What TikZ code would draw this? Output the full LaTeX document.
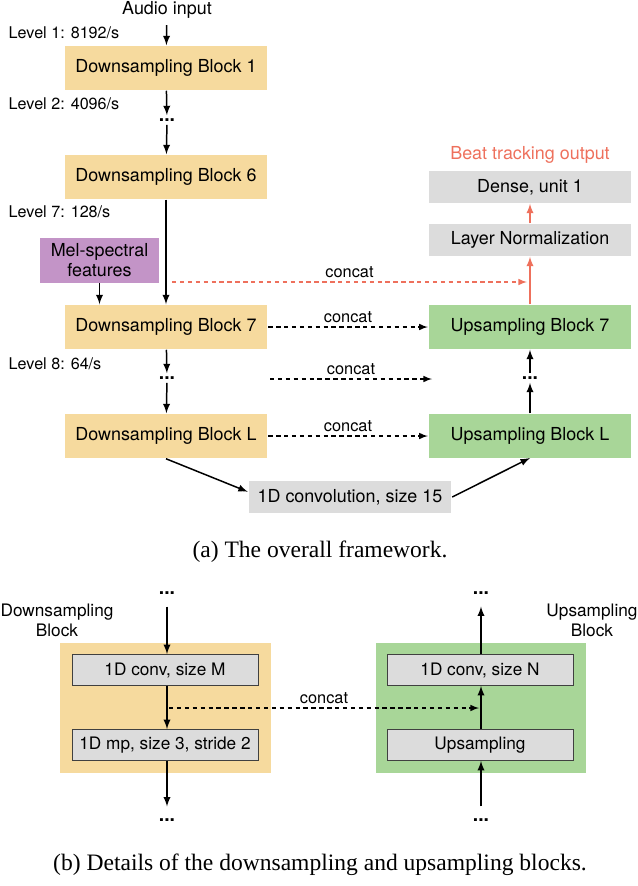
\documentclass[tikz,border=0pt]{standalone}
\usepackage{fontspec}
\setmainfont{Liberation Serif}
\setsansfont{TeX Gyre Heros}
\usetikzlibrary{arrows}

\definecolor{dsyellow}{RGB}{246,218,158}
\definecolor{usgreen}{RGB}{168,214,152}
\definecolor{lgray}{RGB}{220,220,220}
\definecolor{melpurple}{RGB}{195,148,199}
\definecolor{beatred}{RGB}{238,112,92}

\begin{document}
\begin{tikzpicture}[
                x=0.02cm, y=-0.02cm,
                font=\sffamily\fontsize{10.2}{12}\selectfont,
                line width=0.85pt,
                >=latex,
                % blocchi principali
                dsblock/.style={fill=dsyellow, minimum width=4.06cm, minimum height=0.88cm, inner sep=0pt},
                usblock/.style={fill=usgreen, minimum width=4.06cm, minimum height=0.88cm, inner sep=0pt},
                graybox/.style={fill=lgray, minimum width=4.06cm, minimum height=0.64cm, inner sep=0pt},
                layerbox/.style={fill=lgray, draw=black!75, line width=0.5pt, minimum width=3.72cm, minimum height=0.62cm, inner sep=0pt, font=\sffamily\fontsize{9.8}{11}\selectfont},
                lvl/.style={anchor=west, inner sep=0pt, font=\sffamily\fontsize{9.2}{10}\selectfont},
                dots/.style={font=\sffamily\bfseries\fontsize{11}{12}\selectfont, inner sep=1.5pt},
                skip/.style={->, densely dashed, dash pattern=on 2.5pt off 2pt, line width=0.7pt},
                lbl/.style={above, font=\sffamily\fontsize{9.3}{10}\selectfont, inner sep=2pt}
            ]

                \useasboundingbox (0,0) rectangle (637,886);

                % ========================================================
                % (a) Encoder (colonna di sinistra)
                % ========================================================
                \node (audio) at (167, 10) {Audio input};
                \node[lvl] (lv1) at (8, 33) {Level 1: 8192/s};
                \node[dsblock] (ds1) at (166, 68) {Downsampling Block 1};
                \node[lvl] (lv2) at (8, 104) {Level 2: 4096/s};
                \node[dots] (dotsa) at (167, 120) {...};
                \node[dsblock] (ds6) at (166, 177) {Downsampling Block 6};
                \node[lvl] (lv7) at (8, 212) {Level 7: 128/s};
                \node[fill=melpurple, minimum width=2.38cm, minimum height=0.9cm, inner sep=0pt, align=center,
                      font=\sffamily\fontsize{10.2}{11.5}\selectfont] (mel) at (99.5, 260) {Mel-spectral\\features};
                \node[dsblock] (ds7) at (166, 327) {Downsampling Block 7};
                \node[lvl] (lv8) at (8, 364) {Level 8: 64/s};
                \node[dots] (dotsb) at (167, 378) {...};
                \node[dsblock] (dsL) at (166, 436) {Downsampling Block L};

                \draw[->] (audio) -- (ds1);
                \draw[->] (ds1) -- (dotsa);
                \draw[->] (dotsa) -- (ds6);
                \draw[->] (ds6) -- (ds7);
                \draw[->] (mel) -- (mel |- ds7.north);
                \draw[->] (ds7) -- (dotsb);
                \draw[->] (dotsb) -- (dsL);

                % ========================================================
                % (a) Bottleneck
                % ========================================================
                \node[graybox] (conv15) at (350, 497) {1D convolution, size 15};
                \draw[->] (dsL.south) -- ([yshift=3pt]conv15.west);
                \draw[->] (conv15.east) -- (530, 458);

                % ========================================================
                % (a) Decoder (colonna di destra)
                % ========================================================
                \node[usblock] (usL) at (530, 436) {Upsampling Block L};
                \node[dots] (dotsc) at (530, 378) {...};
                \node[usblock] (us7) at (530, 327) {Upsampling Block 7};
                \node[graybox] (lnorm) at (530, 240) {Layer Normalization};
                \node[graybox] (dense) at (530, 187) {Dense, unit 1};
                \node[text=beatred] (beat) at (530, 155) {Beat tracking output};

                \draw[->] (usL) -- (dotsc);
                \draw[->] (dotsc) -- (us7);
                \draw[->, beatred] (us7) -- (lnorm);
                \draw[->, beatred] (lnorm) -- (dense);

                % Collegamenti concat
                \coordinate (tapa) at (172, 282);
                \coordinate (tapb) at (527, 282);
                \coordinate (midl) at (270, 379);
                \coordinate (midr) at (432, 379);
                \draw[skip, beatred] (tapa) -- (tapb) node[lbl, text=black, midway] {concat};
                \draw[skip] (ds7) -- (us7) node[lbl, midway] {concat};
                \draw[skip] (midl) -- (midr) node[lbl, midway] {concat};
                \draw[skip] (dsL) -- (usL) node[lbl, midway] {concat};

                \node[font=\rmfamily\fontsize{13.4}{16}\selectfont] (capa) at (320, 552) {(a) The overall framework.};

                % ========================================================
                % (b) Dettaglio dei blocchi
                % ========================================================
                \node[fill=dsyellow, minimum width=4.22cm, minimum height=2.6cm] (dsbg) at (165.5, 708) {};
                \node[fill=usgreen, minimum width=4.2cm, minimum height=2.6cm] (usbg) at (481, 708) {};
                \node[align=center, font=\sffamily\fontsize{9.8}{11.5}\selectfont] (dsname) at (57, 620) {Downsampling\\Block};
                \node[align=center, font=\sffamily\fontsize{9.8}{11.5}\selectfont] (usname) at (592, 620) {Upsampling\\Block};

                \node[layerbox] (convM) at (165, 670) {1D conv, size M};
                \node[layerbox] (mpool) at (165, 745) {1D mp, size 3, stride 2};
                \node[layerbox] (convN) at (480, 670) {1D conv, size N};
                \node[layerbox] (upsmp) at (480, 745) {Upsampling};

                \node[dots] (dtl) at (167, 593) {...};
                \node[dots] (dbl) at (167, 820) {...};
                \node[dots] (dtr) at (481, 593) {...};
                \node[dots] (dbr) at (481, 820) {...};

                \draw[->, shorten <=5pt] (dtl) -- (convM.north -| dtl);
                \draw[->] (convM.south -| dtl) -- (mpool.north -| dtl);
                \draw[->, shorten >=5pt] (mpool.south -| dbl) -- (dbl);
                \draw[->, shorten <=5pt] (dbr) -- (upsmp.south -| dbr);
                \draw[->] (upsmp.north -| dbr) -- (convN.south -| dbr);
                \draw[->, shorten >=5pt] (convN.north -| dtr) -- (dtr);

                \coordinate (cata) at (169, 708);
                \coordinate (catb) at (479, 708);
                \draw[skip] (cata) -- (catb) node[lbl, midway] {concat};

                \node[font=\rmfamily\fontsize{13.4}{16}\selectfont] (capb) at (320, 865) {(b) Details of the downsampling and upsampling blocks.};

            \end{tikzpicture}
\end{document}
